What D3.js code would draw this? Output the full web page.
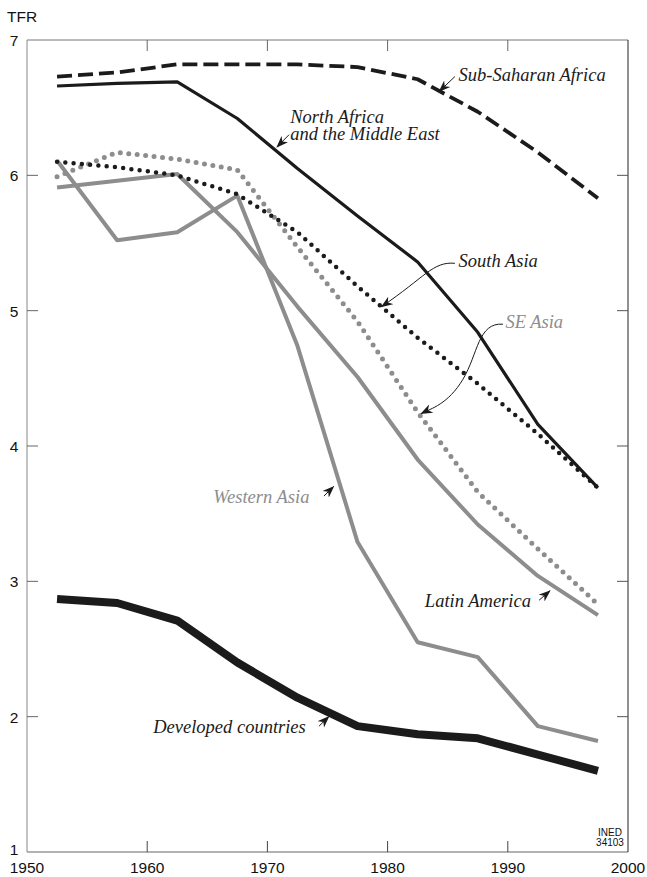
<!DOCTYPE html>
<html>
<head>
<meta charset="utf-8">
<script src="https://cdn.jsdelivr.net/npm/d3@7"></script>
<style>
	body { margin: 0; background: #fff; }
	svg { display: block; }
	.tick-label { font-family: "Liberation Sans", Arial, sans-serif; font-size: 15.5px; fill: #111; }
	.note { font-family: "Liberation Serif", "Times New Roman", serif; font-style: italic; font-size: 18.5px; }
</style>
</head>
<body>
<div id="chart"></div>
<script>
// Data: TFR by five-year period (mid-points)
var years = [1952.5, 1957.5, 1962.5, 1967.5, 1972.5, 1977.5, 1982.5, 1987.5, 1992.5, 1997.5];

var subSaharan   = [6.73, 6.76, 6.82, 6.82, 6.82, 6.80, 6.71, 6.47, 6.17, 5.83];
var northAfrica  = [6.66, 6.68, 6.69, 6.42, 6.05, 5.70, 5.36, 4.84, 4.16, 3.69];
var southAsia    = [6.10, 6.06, 6.00, 5.86, 5.58, 5.18, 4.80, 4.46, 4.09, 3.69];
var seAsia       = [5.99, 6.17, 6.12, 6.04, 5.47, 4.92, 4.25, 3.66, 3.24, 2.83];
var latinAmerica = [5.91, 5.96, 6.01, 5.58, 5.03, 4.51, 3.90, 3.42, 3.04, 2.75];
var westernAsia  = [6.11, 5.52, 5.58, 5.85, 4.74, 3.29, 2.55, 2.44, 1.93, 1.82];
var developed    = [2.87, 2.84, 2.71, 2.40, 2.14, 1.93, 1.87, 1.84, 1.72, 1.60];

var xTicks = [1950, 1960, 1970, 1980, 1990, 2000];
var yTicks = [1, 2, 3, 4, 5, 6, 7];

function drawChart() {
	var width = 647, height = 877;
	var mLeft = 27, mRight = 628, mTop = 40, mBottom = 852;

	var x = d3.scaleLinear().domain([1950, 2000]).range([mLeft, mRight]);
	var y = d3.scaleLinear().domain([1, 7]).range([mBottom, mTop]);

	var black = "#1b1b1b", gray = "#8d8d8d";

	var svg = d3.select("#chart").append("svg")
		.attr("width", width)
		.attr("height", height);

	var defs = svg.append("defs");
	defs.append("marker")
		.attr("id", "arrow")
		.attr("viewBox", "0 0 12 10")
		.attr("refX", 11)
		.attr("refY", 5)
		.attr("markerWidth", 12)
		.attr("markerHeight", 10)
		.attr("markerUnits", "userSpaceOnUse")
		.attr("orient", "auto")
		.append("path")
		.attr("d", "M0,0.5 L12,5 L0,9.5 L3.5,5 z")
		.attr("fill", black);

	// frame + ticks (ticks point inward)
	var tickLen = 11;
	var frame = svg.append("g");
	frame.append("line").attr("x1", mLeft).attr("x2", mRight).attr("y1", mTop).attr("y2", mTop).attr("stroke", "#777");
	frame.append("line").attr("x1", mLeft).attr("x2", mRight).attr("y1", mBottom).attr("y2", mBottom).attr("stroke", "#666");
	frame.append("line").attr("x1", mLeft).attr("x2", mLeft).attr("y1", mTop).attr("y2", mBottom).attr("stroke", "#888");
	frame.append("line").attr("x1", mRight).attr("x2", mRight).attr("y1", mTop).attr("y2", mBottom).attr("stroke", "#222");

	var innerX = xTicks.slice(1, -1), innerY = yTicks.slice(1, -1);
	frame.selectAll(".tb").data(innerX).enter().append("line")
		.attr("x1", function(d) { return x(d); }).attr("x2", function(d) { return x(d); })
		.attr("y1", mBottom).attr("y2", mBottom - tickLen).attr("stroke", "#444");
	frame.selectAll(".tt").data(innerX).enter().append("line")
		.attr("x1", function(d) { return x(d); }).attr("x2", function(d) { return x(d); })
		.attr("y1", mTop).attr("y2", mTop + tickLen).attr("stroke", "#666");
	frame.selectAll(".tl").data(innerY).enter().append("line")
		.attr("y1", function(d) { return y(d); }).attr("y2", function(d) { return y(d); })
		.attr("x1", mLeft).attr("x2", mLeft + tickLen).attr("stroke", "#666");
	frame.selectAll(".tr").data(innerY).enter().append("line")
		.attr("y1", function(d) { return y(d); }).attr("y2", function(d) { return y(d); })
		.attr("x1", mRight).attr("x2", mRight - tickLen).attr("stroke", "#555");

	svg.selectAll(".xl").data(xTicks).enter().append("text")
		.attr("class", "tick-label")
		.attr("x", function(d) { return x(d); })
		.attr("y", 873)
		.attr("text-anchor", "middle")
		.text(function(d) { return d; });

	svg.selectAll(".yl").data(yTicks).enter().append("text")
		.attr("class", "tick-label")
		.attr("x", 14)
		.attr("y", function(d) { return d == 1 ? y(d) + 3 : y(d) + 6; })
		.attr("text-anchor", "middle")
		.text(function(d) { return d; });

	svg.append("text").attr("class", "tick-label")
		.attr("x", 7).attr("y", 22).text("TFR");

	var ined = svg.append("text")
		.attr("font-family", "'Liberation Sans Narrow', 'Liberation Sans', Arial, sans-serif")
		.attr("font-size", 10)
		.attr("text-anchor", "middle")
		.attr("fill", "#111");
	ined.append("tspan").attr("x", 610).attr("y", 836).text("INED");
	ined.append("tspan").attr("x", 610).attr("y", 846).text("34103");

	// series lines
	var line = d3.line()
		.x(function(d, i) { return x(years[i]); })
		.y(function(d) { return y(d); });

	var series = [
		{ values: seAsia, color: gray, width: 5, dash: "0 8.5", cap: "round" },
		{ values: latinAmerica, color: gray, width: 4, dash: null, cap: "butt" },
		{ values: westernAsia, color: gray, width: 4, dash: null, cap: "butt" },
		{ values: southAsia, color: black, width: 4.5, dash: "0 8.3", cap: "round" },
		{ values: northAfrica, color: black, width: 3.2, dash: null, cap: "butt" },
		{ values: subSaharan, color: black, width: 3.8, dash: "15 6", cap: "butt" },
		{ values: developed, color: black, width: 8, dash: null, cap: "butt" }
	];

	svg.append("g").selectAll("path").data(series).enter().append("path")
		.attr("d", function(d) { return line(d.values); })
		.attr("fill", "none")
		.attr("stroke", function(d) { return d.color; })
		.attr("stroke-width", function(d) { return d.width; })
		.attr("stroke-dasharray", function(d) { return d.dash; })
		.attr("stroke-linecap", function(d) { return d.cap; })
		.attr("stroke-linejoin", "round");

	// annotations, positioned in data units
	var notes = [
		{ text: ["Sub-Saharan Africa"], at: [1985.9, 6.70], color: black, from: [1985.6, 6.73], to: [1984.3, 6.62] },
		{ text: ["North Africa", "and the Middle East"], at: [1971.9, 6.39], color: black, from: [1971.8, 6.30], to: [1970.8, 6.21] },
		{ text: ["South Asia"], at: [1985.9, 5.32], color: black, from: [1985.6, 5.35], to: [1979.5, 5.03], curve: "sa" },
		{ text: ["SE Asia"], at: [1989.8, 4.87], color: gray, from: [1989.6, 4.90], to: [1982.8, 4.24], curve: "se" },
		{ text: ["Western Asia"], at: [1965.5, 3.58], color: gray, from: [1974.7, 3.63], to: [1975.5, 3.70] },
		{ text: ["Latin America"], at: [1983.1, 2.81], color: black, from: [1992.6, 2.86], to: [1993.5, 2.93] },
		{ text: ["Developed countries"], at: [1960.5, 1.88], color: black, from: [1974.3, 1.93], to: [1975.1, 2.00] }
	];

	var ann = svg.append("g");
	notes.forEach(function(n) {
		var t = ann.append("text").attr("class", "note").attr("fill", n.color);
		n.text.forEach(function(s, i) {
			t.append("tspan").attr("x", x(n.at[0])).attr("y", y(n.at[1]) + i * 17).text(s);
		});
		var x0 = x(n.from[0]), y0 = y(n.from[1]), x1 = x(n.to[0]), y1 = y(n.to[1]);
		var d;
		if (n.curve == "sa") {
			d = "M" + x0 + "," + y0 + " C" + (x0 - 22) + "," + (y0 - 2) + " " + (x0 - 30) + "," + (y0 + 14) + " " + x1 + "," + y1;
		} else if (n.curve == "se") {
			d = "M" + x0 + "," + y0 + " C" + (x0 - 25) + "," + (y0 - 2) + " " + (x0 - 25) + "," + (y0 + 30) + " " + (x0 - 40) + "," + (y0 + 55)
				+ " S" + (x1 + 10) + "," + (y1 - 5) + " " + x1 + "," + y1;
		} else {
			d = "M" + x0 + "," + y0 + " L" + x1 + "," + y1;
		}
		ann.append("path")
			.attr("d", d)
			.attr("fill", "none")
			.attr("stroke", black)
			.attr("stroke-width", 1)
			.attr("marker-end", "url(#arrow)");
	});
}

drawChart();
</script>
</body>
</html>
